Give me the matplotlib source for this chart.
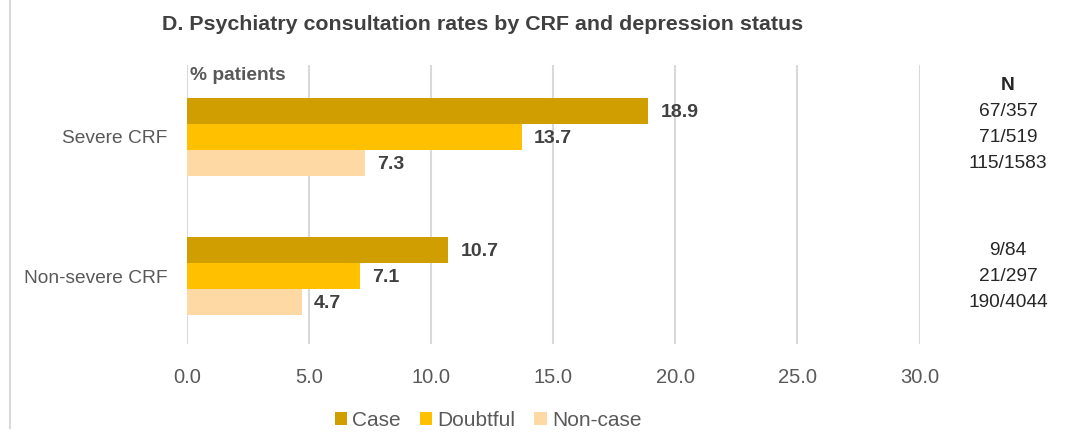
import matplotlib
matplotlib.use("Agg")
import matplotlib.pyplot as plt
import matplotlib.transforms as mtrans
from matplotlib import font_manager
from matplotlib.lines import Line2D
from matplotlib.patches import Patch
import numpy as np

# ---- data ----
groups = ["Severe CRF", "Non-severe CRF"]
series = ["Case", "Doubtful", "Non-case"]
case_pct = [18.9, 10.7]
doubtful_pct = [13.7, 7.1]
noncase_pct = [7.3, 4.7]
n_labels = [["67/357", "71/519", "115/1583"],
            ["9/84", "21/297", "190/4044"]]
x_ticks = [0, 5, 10, 15, 20, 25, 30]

colors = ["#D19E00", "#FFC000", "#FFD9A3"]

# narrow sans face if available
names = {f.name for f in font_manager.fontManager.ttflist}
family = "Liberation Sans Narrow" if "Liberation Sans Narrow" in names else "Liberation Sans"
plt.rcParams["font.family"] = [family, "DejaVu Sans"]

fig = plt.figure(figsize=(10.68, 4.33), dpi=100)
W, H = 1068, 433
ax = fig.add_axes([187 / W, 1 - 344 / H, (919.5 - 187) / W, (344 - 65) / H])

values = [case_pct, doubtful_pct, noncase_pct]
bar_h = 0.187
y_pos = np.arange(len(groups))
for i, (vals, col) in enumerate(zip(values, colors)):
    ys = y_pos + (i - 1) * bar_h
    ax.barh(ys, vals, height=bar_h, color=col, zorder=3)
    for y, v in zip(ys, vals):
        ax.text(v + 0.5, y + 0.01, f"{v:.1f}", va="center", ha="left",
                fontsize=14, fontweight="bold", color="#404040", zorder=4)

ax.set_ylim(1.486, -0.514)
ax.set_xlim(0, 30)
ax.set_xticks(x_ticks)
ax.set_xticklabels([f"{t:.1f}" for t in x_ticks])
ax.set_yticks(y_pos)
ax.set_yticklabels(groups, fontsize=13.8)
ax.tick_params(axis="both", length=0, colors="#595959")
ax.tick_params(axis="x", pad=17, labelsize=14.5)
ax.tick_params(axis="y", pad=14)
for s in ax.spines.values():
    s.set_visible(False)
ax.grid(axis="x", color="#D9D9D9", linewidth=1.5, zorder=0)

ax.text(0.004, 1.0 - 11 / 279, "% patients", transform=ax.transAxes,
        ha="left", va="center", fontsize=13.8, fontweight="bold", color="#595959")

# N column
xN = 1008 / W
fig.text(xN, 1 - 85 / H, "N", ha="center", va="center", fontsize=13.8,
         fontweight="bold", color="#262626")
tr = mtrans.blended_transform_factory(fig.transFigure, ax.transData)
for g, labs in enumerate(n_labels):
    for i, lab in enumerate(labs):
        ax.text(xN, y_pos[g] + (i - 1) * bar_h + 0.005, lab, transform=tr,
                ha="center", va="center", fontsize=13.8, color="#262626")

fig.text(162 / W, 1 - 25 / H,
         "D. Psychiatry consultation rates by CRF and depression status",
         ha="left", va="center", fontsize=15.4, fontweight="bold", color="#404040")

handles = [Patch(facecolor=c, edgecolor="none") for c in colors]
fig.legend(handles, series, loc="center", bbox_to_anchor=(488 / W, 1 - 420 / H),
           ncol=3, frameon=False, fontsize=15, handlelength=0.6, handleheight=0.6,
           handletextpad=0.25, columnspacing=0.9, labelcolor="#595959",
           borderpad=0, borderaxespad=0)

fig.add_artist(Line2D([9.5 / W, 9.5 / W], [1 - 428 / H, 1], transform=fig.transFigure,
                      color="#D9D9D9", linewidth=1.5))

fig.savefig("out.png", dpi=100, facecolor="white")
